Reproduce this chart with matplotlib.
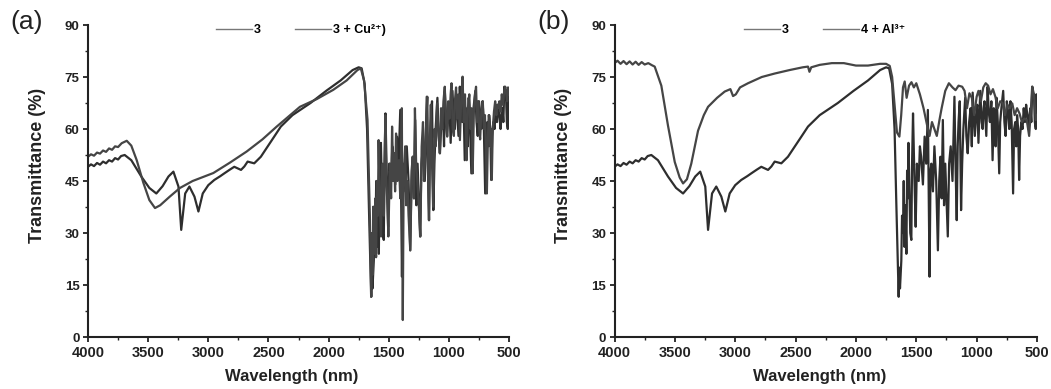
import matplotlib
matplotlib.use('Agg')
import matplotlib.pyplot as plt
from matplotlib.ticker import MultipleLocator
from matplotlib.lines import Line2D

# ---------------- data ----------------
# compound 3 (shown in both panels): (wavenumber, transmittance)
pts_3 = [(4000, 49.1), (3975, 49.8), (3950, 49.3), (3925, 50.2), (3900, 49.7),
         (3875, 50.6), (3850, 50.1), (3825, 51.0), (3800, 50.6), (3775, 51.6),
         (3750, 51.2), (3725, 52.2), (3695, 52.5), (3640, 51.0), (3557, 46.3),
         (3490, 43.0), (3432, 41.4), (3380, 43.5), (3331, 46.3), (3290, 47.7),
         (3248, 43.4), (3225, 30.9), (3192, 41.4), (3157, 43.4), (3115, 40.5),
         (3082, 36.2), (3046, 41.4), (3000, 43.8), (2950, 45.3), (2900, 46.4),
         (2867, 47.2), (2820, 48.3), (2784, 49.1), (2728, 48.2), (2700, 49.2),
         (2673, 50.6), (2618, 50.1), (2563, 52.0), (2507, 54.9), (2452, 57.8),
         (2397, 60.7), (2300, 64.0), (2150, 67.5), (2020, 71.0), (1900, 74.0),
         (1800, 77.0), (1750, 77.8), (1725, 77.5), (1700, 73.0), (1680, 60.0),
         (1665, 38.0), (1646, 11.6)]
fp_3 = [(1640, 20), (1635, 14), (1624, 22), (1618, 35), (1610, 30), (1604, 45),
        (1598, 26), (1590, 38), (1582, 24), (1576, 48), (1570, 40), (1565, 56),
        (1560, 48), (1550, 30), (1541, 28), (1535, 50), (1527, 64.5), (1515, 45),
        (1505, 31.8), (1495, 50), (1480, 45), (1470, 55), (1460, 52), (1445, 44),
        (1431, 57.8), (1418, 50), (1404, 65.5), (1390, 17.4), (1382, 48), (1375, 50),
        (1362, 42), (1350, 55), (1335, 45), (1321, 25), (1310, 45), (1300, 52),
        (1290, 40), (1280, 62.6), (1270, 38), (1260, 50), (1250, 40), (1239, 29),
        (1228, 50), (1215, 55), (1200, 45), (1184, 69.3), (1175, 50), (1165, 33.7),
        (1157, 55), (1150, 62), (1140, 68), (1129, 36.6), (1120, 50), (1110, 60),
        (1095, 69), (1085, 58), (1074, 53), (1062, 62), (1050, 66), (1040, 55),
        (1033, 70.5), (1015, 58), (1005, 64), (995, 67), (985, 56), (970, 71),
        (958, 62), (950, 60), (942, 66), (935, 68), (920, 58), (909, 72.2),
        (900, 65), (890, 62), (878, 68), (868, 51), (858, 66), (850, 65),
        (843, 55), (835, 69), (825, 62), (813, 47.2), (805, 62), (795, 66),
        (780, 71), (770, 62), (760, 58), (750, 68), (740, 65), (730, 60),
        (720, 68), (710, 62), (698, 41.4), (690, 60), (680, 62), (672, 55),
        (665, 64), (656, 60), (648, 45.3), (640, 58), (630, 62), (620, 60),
        (610, 66), (600, 62), (590, 67), (580, 64), (570, 60), (562, 64),
        (555, 66), (547, 62), (539, 72.2), (532, 70), (525, 70), (518, 62),
        (510, 60), (505, 70), (500, 65)]

# 3 + Cu2+
pts_cu = [(4000, 52.0), (3975, 52.7), (3950, 52.3), (3925, 53.2), (3900, 52.9),
          (3875, 53.8), (3850, 53.4), (3825, 54.4), (3800, 54.0), (3775, 55.0),
          (3750, 54.8), (3720, 55.9), (3678, 56.6), (3640, 55.2), (3595, 51.0),
          (3540, 44.5), (3490, 39.5), (3443, 37.2), (3400, 38.0), (3320, 40.5),
          (3235, 43.0), (3130, 45.0), (2958, 47.3), (2820, 50.3), (2681, 53.5),
          (2550, 57.0), (2431, 60.7), (2330, 63.7), (2238, 66.4), (2100, 68.6),
          (1961, 71.3), (1850, 74.0), (1760, 77.0), (1732, 77.5), (1705, 74.0),
          (1676, 62.6), (1656, 33.7), (1645, 11.6)]
fp_cu = [(1638, 30), (1633, 18), (1628, 37.6), (1622, 28), (1617, 24), (1611, 40),
         (1605, 23), (1598, 45), (1590, 35), (1584, 56.8), (1575, 40), (1564, 29),
         (1557, 45), (1550, 50), (1540, 35), (1528, 64), (1520, 45), (1510, 38),
         (1503, 29), (1490, 50), (1480, 40), (1472, 60.7), (1462, 45), (1455, 53),
         (1447, 42), (1439, 58.7), (1428, 45), (1415, 51), (1404, 40), (1391, 66),
         (1383, 4.9), (1376, 45), (1363, 55), (1355, 38), (1345, 45), (1335, 35),
         (1321, 25), (1310, 48), (1300, 52), (1290, 40), (1282, 66), (1272, 50),
         (1262, 45), (1250, 38), (1237, 29), (1226, 55), (1215, 62), (1207, 45),
         (1200, 50), (1190, 60), (1179, 69.3), (1172, 45), (1165, 33.7), (1157, 58),
         (1150, 67), (1140, 50), (1131, 37.6), (1120, 60), (1110, 55), (1098, 67.4),
         (1088, 60), (1075, 53), (1065, 66), (1055, 60), (1045, 68), (1034, 72.2),
         (1024, 62), (1014, 57.8), (1005, 68), (995, 63), (985, 70), (978, 73.2),
         (968, 60), (958, 58), (950, 68), (940, 72), (930, 63), (920, 70),
         (908, 56.8), (898, 68), (886, 75.1), (876, 62), (866, 70), (858, 60),
         (852, 51), (842, 66), (830, 70), (820, 60), (810, 66), (802, 47.2),
         (792, 65), (782, 70), (774, 72.2), (765, 62), (755, 68), (748, 60),
         (740, 57), (730, 65), (718, 68), (708, 60), (700, 64), (692, 55),
         (684, 41.4), (675, 58), (668, 64), (662, 62), (655, 55), (648, 60),
         (643, 45.3), (635, 60), (625, 65), (615, 68), (605, 64), (598, 67),
         (590, 66), (580, 68), (570, 65), (560, 70), (550, 67), (540, 71),
         (531, 72.2), (522, 70), (515, 68), (508, 72), (500, 70)]

# 4 + Al3+
pts_al = [(4000, 79.0), (3975, 79.7), (3950, 78.8), (3925, 79.6), (3900, 78.7),
          (3875, 79.5), (3850, 78.6), (3825, 79.4), (3800, 78.5), (3775, 79.3),
          (3750, 78.6), (3720, 79.0), (3690, 78.4), (3667, 78.0), (3612, 72.5),
          (3557, 61.0), (3501, 50.5), (3460, 46.0), (3432, 44.3), (3400, 45.5),
          (3364, 50.0), (3308, 59.5), (3260, 64.0), (3225, 66.4), (3150, 69.0),
          (3087, 70.8), (3040, 71.5), (3018, 69.5), (2995, 70.0), (2960, 72.0),
          (2894, 73.2), (2780, 75.0), (2673, 76.0), (2550, 77.0), (2440, 77.8),
          (2397, 78.0), (2385, 76.5), (2370, 77.8), (2350, 78.0), (2300, 78.5),
          (2200, 79.0), (2100, 79.0), (2000, 78.3), (1900, 78.3), (1800, 78.8),
          (1750, 78.8), (1720, 78.2), (1700, 75.0), (1680, 67.0), (1660, 59.0),
          (1640, 57.8), (1625, 64.0), (1610, 72.0), (1596, 73.7), (1580, 69.0),
          (1560, 72.5), (1540, 73.5), (1520, 72.0), (1500, 73.2), (1470, 70.0),
          (1440, 66.0), (1410, 61.0), (1390, 58.0), (1370, 62.0), (1350, 60.0),
          (1330, 58.0), (1308, 62.6), (1290, 66.0), (1260, 71.0), (1230, 73.2),
          (1200, 72.0), (1175, 71.2), (1150, 72.5), (1120, 72.2), (1100, 71.0),
          (1080, 66.0), (1060, 70.3), (1040, 69.0), (1020, 64.0), (1000, 69.3),
          (985, 71.0), (965, 68.0), (945, 72.0), (925, 73.2), (905, 72.5),
          (885, 70.0), (865, 71.5), (845, 69.3), (825, 66.0), (805, 68.0),
          (785, 67.5), (765, 64.0), (745, 67.0), (725, 66.0), (705, 67.4),
          (685, 64.0), (665, 66.0), (645, 64.5), (625, 62.0), (605, 63.0),
          (585, 62.6), (565, 58.0), (550, 66.0), (540, 72.2), (525, 70.0),
          (510, 62.6), (500, 64.0)]

wn_3 = [p[0] for p in pts_3 + fp_3]
t_3 = [p[1] for p in pts_3 + fp_3]
wn_cu = [p[0] for p in pts_cu + fp_cu]
t_cu = [p[1] for p in pts_cu + fp_cu]
wn_al = [p[0] for p in pts_al]
t_al = [p[1] for p in pts_al]

x_ticks = [4000, 3500, 3000, 2500, 2000, 1500, 1000, 500]
y_ticks = [0, 15, 30, 45, 60, 75, 90]
legend_a = ['3', '3 + Cu²⁺)']
legend_b = ['3', '4 + Al³⁺']
panel_labels = ['(a)', '(b)']
x_label = 'Wavelength (nm)'
y_label = 'Transmittance (%)'

# ---------------- style ----------------
plt.rcParams['font.family'] = ['Liberation Sans', 'DejaVu Sans']

INK = '#222222'
C3 = '#2e2e2e'
C2 = '#454545'
LW = 1.6

fig = plt.figure(figsize=(10.51, 3.89), dpi=100)
ax_a = fig.add_axes([88 / 1051, 52 / 389, 421 / 1051, 312 / 389])
ax_b = fig.add_axes([614.5 / 1051, 52 / 389, 422.5 / 1051, 312 / 389])


def style(ax):
    ax.set_xlim(4000, 500)
    ax.set_ylim(0, 90)
    ax.set_xticks(x_ticks)
    ax.set_yticks(y_ticks)
    ax.xaxis.set_minor_locator(MultipleLocator(250))
    ax.yaxis.set_minor_locator(MultipleLocator(7.5))
    for s in ('top', 'right'):
        ax.spines[s].set_visible(False)
    for s in ('left', 'bottom'):
        ax.spines[s].set_linewidth(1.5)
        ax.spines[s].set_color(INK)
    ax.tick_params(which='major', direction='out', length=3.5, width=1.3,
                   color=INK, labelcolor=INK)
    ax.tick_params(which='minor', direction='out', length=2, width=1.0,
                   color=INK)
    ax.tick_params(axis='x', which='major', pad=3)
    ax.tick_params(axis='y', which='major', pad=2.5)
    for lab in ax.get_xticklabels():
        lab.set_fontweight('bold')
        lab.set_fontsize(10.5)
    for lab in ax.get_yticklabels():
        lab.set_fontweight('bold')
        lab.set_fontsize(9.5)
    ax.set_xlabel(x_label, fontsize=12, fontweight='bold', color=INK)
    ax.set_ylabel(y_label, fontsize=13, fontweight='bold', color=INK)
    ax.xaxis.set_label_coords(0.485, -0.128)
    ax.xaxis.label.set_va('center')
    ax.yaxis.set_label_coords(-0.121, 0.55)
    ax.yaxis.label.set_va('center')


for ax in (ax_a, ax_b):
    style(ax)

# panel (a)
ax_a.plot(wn_3, t_3, color=C3, lw=LW)
ax_a.plot(wn_cu, t_cu, color=C2, lw=LW)
# panel (b)
ax_b.plot(wn_3, t_3, color=C3, lw=LW)
ax_b.plot(wn_al, t_al, color=C2, lw=LW)

for ax, labels, xc in ((ax_a, legend_a, 0.505), (ax_b, legend_b, 0.497)):
    handles = [Line2D([], [], color='#777777', lw=1.0),
               Line2D([], [], color='#777777', lw=1.0)]
    ax.legend(handles, labels, loc='center', bbox_to_anchor=(xc, 0.984),
              ncol=2, frameon=False, prop=dict(weight='bold', size=9),
              handlelength=2.9, handletextpad=0.15, columnspacing=2.7,
              borderpad=0, borderaxespad=0)

fig.text(27 / 1051, 1 - 22 / 389, panel_labels[0], fontsize=19,
         ha='center', va='center', color=INK)
fig.text(554 / 1051, 1 - 22 / 389, panel_labels[1], fontsize=19,
         ha='center', va='center', color=INK)

fig.savefig('out.png', dpi=100)
